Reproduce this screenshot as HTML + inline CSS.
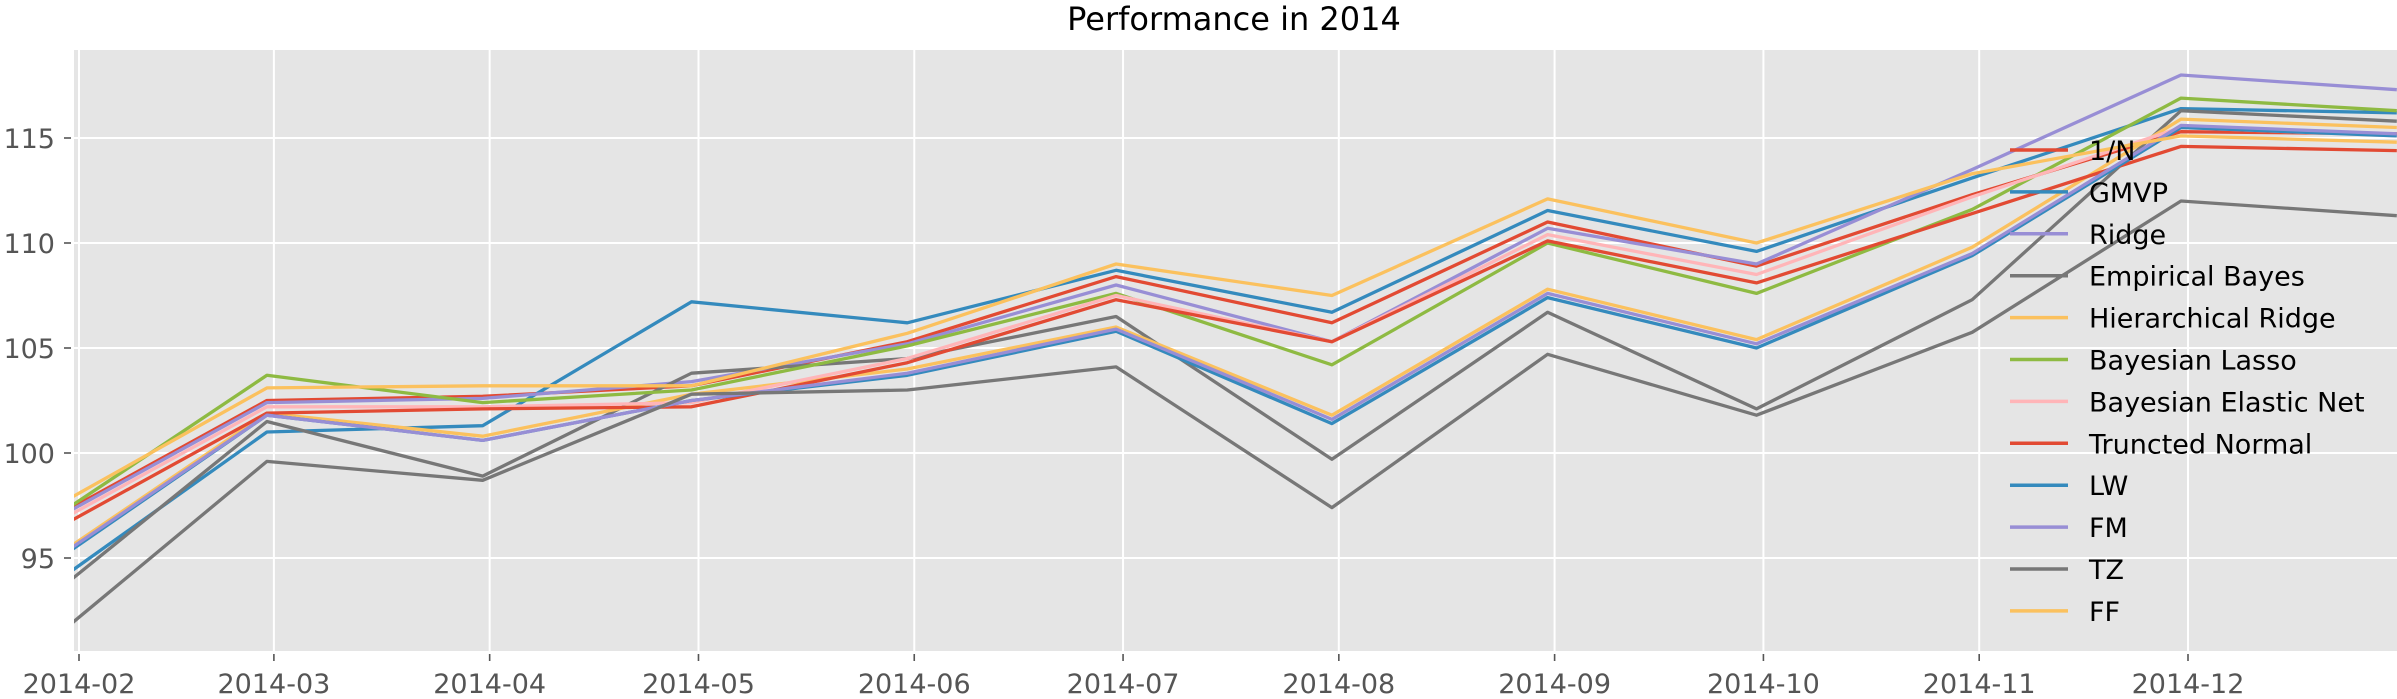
<!DOCTYPE html>
<html><head><meta charset="utf-8"><style>
html,body{margin:0;padding:0;background:#fff;}
svg{display:block;font-family:"DejaVu Sans","Liberation Sans",sans-serif;}
</style></head><body>
<svg id="chart" width="2397" height="699" viewBox="0 0 2397 699" xmlns="http://www.w3.org/2000/svg">
<text x="1234" y="30" text-anchor="middle" font-size="32" fill="#000">Performance in 2014</text>
<defs><clipPath id="clip"><rect x="74" y="50" width="2323" height="601"/></clipPath></defs>
<rect x="74" y="50" width="2323" height="601" fill="#E5E5E5"/>
<g id="grid"></g><g id="lines" clip-path="url(#clip)"></g><g id="axes"></g><g id="legend"></g>
</svg>
<script>
const dates = ["2014-01-31","2014-02-28","2014-03-31","2014-04-30","2014-05-31","2014-06-30","2014-07-31","2014-08-31","2014-09-30","2014-10-31","2014-11-30","2014-12-31"];
const xTickLabels = ["2014-02","2014-03","2014-04","2014-05","2014-06","2014-07","2014-08","2014-09","2014-10","2014-11","2014-12"];
const yTicks = [95,100,105,110,115];
const seriesNames = ["1/N","GMVP","Ridge","Empirical Bayes","Hierarchical Ridge","Bayesian Lasso","Bayesian Elastic Net","Truncted Normal","LW","FM","TZ","FF"];
const seriesColors = ["#E24A33","#348ABD","#988ED5","#777777","#FBC15E","#8EBA42","#FFB5B8","#E24A33","#348ABD","#988ED5","#777777","#FBC15E"];
const s1N   = [97.4,102.5,102.7,103.2,105.3,108.4,106.2,111.0,108.9,112.3,115.3,115.2];
const sGMVP = [94.4,101.0,101.3,107.2,106.2,108.7,106.7,111.55,109.6,113.1,116.4,116.2];
const sRidge= [97.3,102.4,102.6,103.4,105.2,108.0,105.3,110.7,109.0,113.5,118.0,117.3];
const sEB   = [94.0,101.5,98.9,103.8,104.5,106.5,99.7,106.7,102.1,107.3,116.3,115.8];
const sHR   = [95.6,101.9,100.8,102.8,104.0,106.0,101.8,107.8,105.4,109.8,115.9,115.5];
const sBL   = [97.5,103.7,102.4,103.0,105.1,107.6,104.2,110.0,107.6,111.6,116.9,116.3];
const sBEN  = [97.1,102.2,102.2,102.4,104.5,107.5,105.3,110.4,108.5,112.2,115.5,115.1];
const sTN   = [96.8,101.9,102.1,102.2,104.3,107.3,105.3,110.1,108.1,111.4,114.6,114.4];
const sLW   = [95.4,101.8,100.6,102.5,103.7,105.8,101.4,107.4,105.0,109.4,115.5,115.1];
const sFM   = [95.5,101.8,100.6,102.5,103.8,105.9,101.6,107.6,105.2,109.5,115.6,115.2];
const sTZ   = [91.9,99.6,98.7,102.8,103.0,104.1,97.4,104.7,101.8,105.75,112.0,111.3];
const sFF   = [97.9,103.1,103.2,103.2,105.7,109.0,107.5,112.1,110.0,113.3,115.1,114.8];
const seriesValues = [s1N,sGMVP,sRidge,sEB,sHR,sBL,sBEN,sTN,sLW,sFM,sTZ,sFF];

const NS="http://www.w3.org/2000/svg";
const T0=Date.UTC(2014,1,1), PXD=(2188-79)/303;
function xScale(d){const p=d.split("-");return 79+(Date.UTC(+p[0],+p[1]-1,+(p[2]||1))-T0)/86400000*PXD;}
function yScale(v){return 453-(v-100)*21;}
function mk(tag,attrs,parent){const e=document.createElementNS(NS,tag);for(const k in attrs)e.setAttribute(k,attrs[k]);parent.appendChild(e);return e;}
const grid=document.getElementById("grid"),axes=document.getElementById("axes"),lines=document.getElementById("lines"),legend=document.getElementById("legend");
xTickLabels.forEach(t=>{
  const x=xScale(t);
  const g=mk("line",{x1:x,x2:x,y1:50,y2:651,stroke:"#fff","stroke-width":2},grid);
  
  
  const tk=mk("line",{x1:x,x2:x,y1:654,y2:661,stroke:"#555","stroke-width":1.6},axes);
  
  
  const lb=mk("text",{x:x,y:693,"text-anchor":"middle","font-size":27,fill:"#555"},axes);
  lb.textContent=t;
  
  
});
yTicks.forEach(v=>{
  const y=yScale(v);
  const g=mk("line",{x1:74,x2:2397,y1:y,y2:y,stroke:"#fff","stroke-width":2},grid);
  
  
  const tk=mk("line",{x1:64,x2:71,y1:y,y2:y,stroke:"#555","stroke-width":1.6},axes);
  
  
  const lb=mk("text",{x:55,y:y+10,"text-anchor":"end","font-size":27,fill:"#555"},axes);
  lb.textContent=v;
  
  
});
seriesValues.forEach((vals,i)=>{
  const pts=vals.map((v,j)=>xScale(dates[j]).toFixed(1)+","+yScale(v).toFixed(1)).join(" ");
  const pl=mk("polyline",{points:pts,fill:"none",stroke:seriesColors[i],"stroke-width":3.3,"stroke-linejoin":"round"},lines);
  
  
  const y=150+i*41.9;
  const ll=mk("line",{x1:2010,x2:2068,y1:y,y2:y,stroke:seriesColors[i],"stroke-width":3.5},legend);
  
  
  const lt=mk("text",{x:2089,y:y+10,"font-size":27,fill:"#000"},legend);
  lt.textContent=seriesNames[i];
  
  
});
</script>
</body></html>
